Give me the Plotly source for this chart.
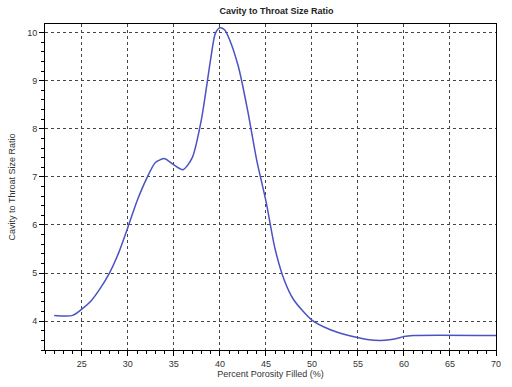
import plotly.graph_objects as go

porosity = [22, 24, 25, 26, 27, 28, 29, 30, 31, 32, 33, 34, 35, 36, 37, 38, 39, 39.5, 40, 40.5, 41, 42, 43, 44, 45, 46, 47, 48, 50, 52, 54, 56, 57.5, 59, 60, 61, 70]
ratio = [4.12, 4.12, 4.25, 4.42, 4.68, 5.0, 5.42, 5.95, 6.5, 6.95, 7.3, 7.38, 7.25, 7.15, 7.4, 8.2, 9.45, 9.98, 10.1, 10.06, 9.88, 9.3, 8.4, 7.35, 6.5, 5.5, 4.85, 4.45, 4.02, 3.82, 3.7, 3.62, 3.6, 3.63, 3.68, 3.7, 3.7]

x_ticks = [25, 30, 35, 40, 45, 50, 55, 60, 65, 70]
y_ticks = [4, 5, 6, 7, 8, 9, 10]

fig = go.Figure()
fig.add_trace(go.Scatter(
    x=porosity, y=ratio, mode="lines",
    line=dict(color="#4a52c4", width=1.5, shape="spline", smoothing=0.7),
    hoverinfo="skip", showlegend=False,
))

axis_common = dict(
    showline=True, linecolor="black", linewidth=1, mirror=True,
    showgrid=True, gridcolor="#444444", griddash="dot", gridwidth=1,
    zeroline=False, ticks="outside", ticklen=5, tickcolor="black",
    tickfont=dict(family="Liberation Sans, Arial", size=9, color="#333333"),
)

fig.update_layout(
    width=512, height=387,
    margin=dict(l=44, r=11, t=24, b=29),
    paper_bgcolor="white", plot_bgcolor="white",
    title=dict(text="<b>Cavity to Throat Size Ratio</b>", x=0.54, xanchor="center",
               y=0.972, yanchor="middle",
               font=dict(family="Liberation Sans, Arial", size=9, color="#222222")),
    xaxis=dict(range=[21, 70], tickvals=x_ticks,
               minor=dict(dtick=1, ticks="outside", ticklen=3, tickcolor="black", showgrid=False),
               title=dict(text="Percent Porosity Filled (%)", standoff=1,
                          font=dict(family="Liberation Sans, Arial", size=9, color="#333333")),
               **axis_common),
    yaxis=dict(range=[3.4, 10.18], tickvals=y_ticks,
               minor=dict(dtick=0.2, ticks="outside", ticklen=3, tickcolor="black", showgrid=False),
               title=dict(text="Cavity to Throat Size Ratio", standoff=10,
                          font=dict(family="Liberation Sans, Arial", size=9, color="#333333")),
               **axis_common),
)

fig.write_html("out.html")
